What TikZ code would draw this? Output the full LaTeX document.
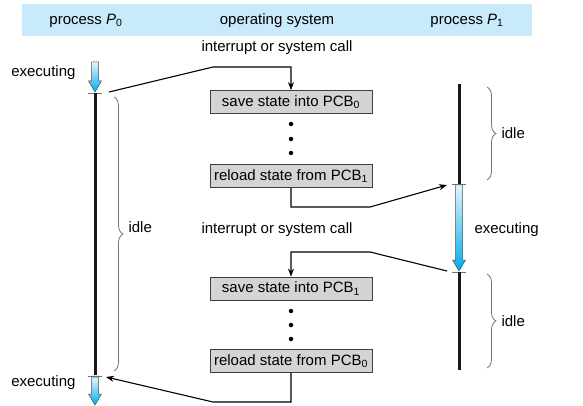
\documentclass[tikz,border=0pt]{standalone}
\usepackage{fontspec}
\setmainfont{Liberation Sans}
\usetikzlibrary{positioning, arrows.meta, decorations.pathreplacing}
\definecolor{bandblue}{RGB}{200,234,250}
\definecolor{execblue}{RGB}{0,172,236}
\definecolor{boxgray}{RGB}{212,212,212}
\newcommand{\execarrow}[3]{%
  \shade[top color=white!88!execblue, bottom color=execblue, draw=black!70, line width=0.5pt]
    (#1-3.5,#2) -- (#1+3.5,#2) -- (#1+3.5,#3-11) -- (#1+6.5,#3-11) -- (#1,#3)
    -- (#1-6.5,#3-11) -- (#1-3.5,#3-11) -- cycle;}

\begin{document}
\begin{tikzpicture}[x=1pt, y=-1pt, >={Stealth[length=8pt,width=6pt]},
  font=\fontsize{15}{18}\selectfont,
  opbox/.style={draw=black!75, line width=0.8pt, fill=boxgray, minimum width=162pt, minimum height=23pt, inner sep=0pt},
  dot/.style={circle, fill=black, inner sep=0pt, minimum size=4.5pt},
  timeline/.style={line width=3pt, black!90},
  tick/.style={black!55, line width=0.6pt},
  idlebrace/.style={black!55, line width=0.8pt, decorate, decoration={brace, amplitude=9pt}},
  conn/.style={line width=1.1pt}]
		\useasboundingbox (0,0) rectangle (583,406);
		% Header
		\fill[bandblue] (22,4) rectangle (532,36);
		\node (tP0) at (86,21) {process \textit{P}\textsubscript{0}};
		\node (tOS) at (277,21) {operating system};
		\node (tP1) at (467,21) {process \textit{P}\textsubscript{1}};
		% Operating system boxes
		\node[opbox] (save0) at (291,102) {save state into PCB\textsubscript{0}};
		\node[dot] (d1) at (291,124) {};
		\node[dot] (d2) at (291,139) {};
		\node[dot] (d3) at (291,153) {};
		\node[opbox] (reload1) at (291,176) {reload state from PCB\textsubscript{1}};
		\node[opbox] (save1) at (291,288.5) {save state into PCB\textsubscript{1}};
		\node[dot] (d4) at (291,311) {};
		\node[dot] (d5) at (291,325) {};
		\node[dot] (d6) at (291,339) {};
		\node[opbox] (reload0) at (291,361) {reload state from PCB\textsubscript{0}};
		\node (irq0) at (277,48) {interrupt or system call};
		\node (irq1) at (277,230) {interrupt or system call};
		% Process P0
		\execarrow{95}{62}{92}
		\draw[tick] (88,93) -- (102,93);
		\draw[timeline] (95,93) -- (95,375);
		\draw[tick] (88,376) -- (102,376);
		\execarrow{95}{377}{405}
		\node[anchor=east] (exec0) at (79,73) {executing};
		\node[anchor=east] (exec2) at (79,383) {executing};
		\draw[idlebrace] (114,97) -- (114,371);
		\node[anchor=west] (idle0) at (125,227) {idle};
		% Process P1
		\draw[timeline] (459,84) -- (459,184);
		\draw[tick] (452,184) -- (466,184);
		\execarrow{459}{185}{271}
		\draw[tick] (452,272) -- (466,272);
		\draw[timeline] (459,272) -- (459,370);
		\node[anchor=west] (exec1) at (471,230) {executing};
		\draw[idlebrace] (487,87) -- (487,180);
		\node[anchor=west] (idle1) at (498,133) {idle};
		\draw[idlebrace] (487,274) -- (487,368);
		\node[anchor=west] (idle2) at (498,321) {idle};
		% Switches
		\coordinate (p0out) at (109,92);
		\coordinate (p1in) at (447,185);
		\coordinate (p1out) at (447,271);
		\coordinate (p0in) at (106,377);
		\draw[conn,->] (p0out) -- (213,67) -| (save0.north);
		\draw[conn,->] (reload1.south) |- (370,207) -- (p1in);
		\draw[conn,->] (p1out) -- (370,252) -| (save1.north);
		\draw[conn,->] (reload0.south) |- (213,402) -- (p0in);
	\end{tikzpicture}
\end{document}
